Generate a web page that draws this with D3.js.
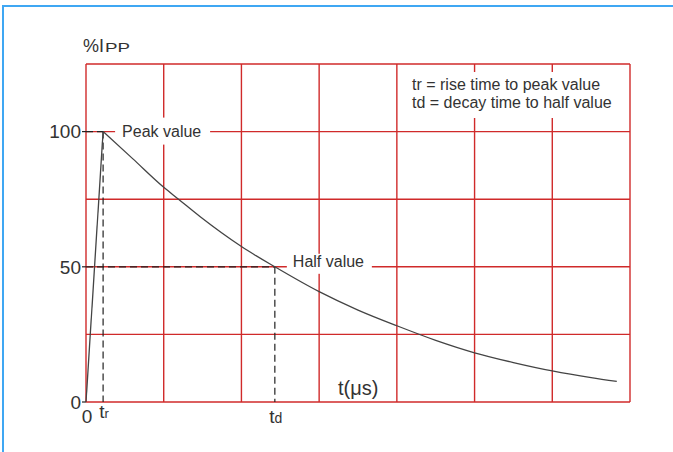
<!DOCTYPE html>
<html>
<head>
<meta charset="utf-8">
<script src="https://cdnjs.cloudflare.com/ajax/libs/d3/7.8.5/d3.min.js"></script>
<style>
  body { margin: 0; background: #fff; }
  text { font-family: "Liberation Sans", Arial, sans-serif; fill: #333; }
</style>
</head>
<body>
<div id="chart-area"></div>
<script>
// grid + data
var gridT = [0, 1, 2, 3, 4, 5, 6, 7]
var gridV = [0, 25, 50, 75, 100, 125]
var yTicks = [0, 50, 100]
var yTickLabels = ["0", "50", "100"]

var tr = 0.22
var td = 2.43

var riseT = [0, 0.22]
var riseV = [0, 100]

var decayT = [0.22, 0.6, 1.0, 1.19, 1.47, 2.0, 2.43, 3.0, 3.5, 4.0, 4.5, 5.0, 5.5, 6.0, 6.5, 6.83]
var decayV = [100, 90, 79.4, 75, 68.5, 57.5, 50, 40.8, 34, 28.2, 22.8, 18.2, 14.6, 11.5, 9.0, 7.6]

var legendLines = ["tr = rise time to peak value", "td = decay time to half value"]

var margin = { top: 64, bottom: 50, left: 86, right: 43 }
var width = 673 - margin.left - margin.right
var height = 452 - margin.top - margin.bottom

var svg = d3.select("#chart-area")
  .append("svg")
  .attr("width", 673)
  .attr("height", 452)

// light blue frame (top + left only)
svg.append("path")
  .attr("d", "M3,452 V6 H673")
  .attr("fill", "none")
  .attr("stroke", "#3fa7f3")
  .attr("stroke-width", 2)

var g = svg.append("g")
  .attr("transform", "translate(" + margin.left + "," + margin.top + ")")

var x = d3.scaleLinear()
  .domain([0, 7])
  .range([0, width])

var y = d3.scaleLinear()
  .domain([0, 125])
  .range([height, 0])

var red = "#d02a2a"

// grid
g.selectAll(".vgrid")
  .data(gridT)
  .enter()
  .append("line")
  .attr("class", "vgrid")
  .attr("x1", d => x(d))
  .attr("x2", d => x(d))
  .attr("y1", 0)
  .attr("y2", height)
  .attr("stroke", red)
  .attr("stroke-width", 1.4)

g.selectAll(".hgrid")
  .data(gridV)
  .enter()
  .append("line")
  .attr("class", "hgrid")
  .attr("x1", 0)
  .attr("x2", width)
  .attr("y1", d => y(d))
  .attr("y2", d => y(d))
  .attr("stroke", red)
  .attr("stroke-width", 1.4)

// white patches behind the labels
g.append("rect")
  .attr("x", x(tr) + 12)
  .attr("y", y(100) - 14)
  .attr("width", 95)
  .attr("height", 27)
  .attr("fill", "#fff")

g.append("rect")
  .attr("x", x(td) + 12)
  .attr("y", y(50) - 13)
  .attr("width", 85)
  .attr("height", 20)
  .attr("fill", "#fff")

g.append("rect")
  .attr("x", 319)
  .attr("y", 8)
  .attr("width", 210)
  .attr("height", 46)
  .attr("fill", "#fff")

// y ticks
g.selectAll(".ytick")
  .data(yTicks)
  .enter()
  .append("line")
  .attr("x1", -4)
  .attr("x2", 0)
  .attr("y1", d => y(d))
  .attr("y2", d => y(d))
  .attr("stroke", "#222")
  .attr("stroke-width", 1.2)

g.selectAll(".ylabel")
  .data(yTicks)
  .enter()
  .append("text")
  .attr("x", -5)
  .attr("y", d => y(d))
  .attr("dy", "0.36em")
  .attr("text-anchor", "end")
  .attr("font-size", "19px")
  .text((d, i) => yTickLabels[i])

// dashed guides
var dash = [
  { x1: tr, y1: 100, x2: tr, y2: 0 },
  { x1: 0, y1: 100, x2: tr, y2: 100 },
  { x1: 0, y1: 50, x2: td, y2: 50 },
  { x1: td, y1: 50, x2: td, y2: 0 }
]

g.selectAll(".dash")
  .data(dash)
  .enter()
  .append("line")
  .attr("x1", d => x(d.x1))
  .attr("x2", d => x(d.x2))
  .attr("y1", d => y(d.y1))
  .attr("y2", d => y(d.y2))
  .attr("stroke", "#222")
  .attr("stroke-width", 1.2)
  .attr("stroke-dasharray", "7,4")

// the pulse
var rise = riseT.map((t, i) => [t, riseV[i]])
var decay = decayT.map((t, i) => [t, decayV[i]])

g.append("path")
  .attr("d", d3.line().x(d => x(d[0])).y(d => y(d[1]))(rise))
  .attr("fill", "none")
  .attr("stroke", "#444")
  .attr("stroke-width", 1.3)

g.append("path")
  .attr("d", d3.line().curve(d3.curveMonotoneX).x(d => x(d[0])).y(d => y(d[1]))(decay))
  .attr("fill", "none")
  .attr("stroke", "#444")
  .attr("stroke-width", 1.3)

// x labels
g.append("text")
  .attr("x", x(0) + 1)
  .attr("y", height + 21)
  .attr("text-anchor", "middle")
  .attr("font-size", "19px")
  .text("0")

var trLabel = g.append("text")
  .attr("x", x(tr) + 1)
  .attr("y", height + 16)
  .attr("text-anchor", "middle")
trLabel.append("tspan").attr("font-size", "19px").text("t")
trLabel.append("tspan").attr("font-size", "13px").text("r")

var tdLabel = g.append("text")
  .attr("x", x(td) + 1)
  .attr("y", height + 21)
  .attr("text-anchor", "middle")
tdLabel.append("tspan").attr("font-size", "19px").text("t")
tdLabel.append("tspan").attr("font-size", "14px").text("d")

g.append("text")
  .attr("x", 252)
  .attr("y", height - 7)
  .attr("font-size", "20px")
  .text("t(μs)")

// y title
g.append("text")
  .attr("x", -3)
  .attr("y", -12)
  .attr("font-size", "18px")
  .text("%I")

g.append("text")
  .attr("x", 19)
  .attr("y", -12)
  .attr("font-size", "13px")
  .attr("textLength", 25)
  .attr("lengthAdjust", "spacingAndGlyphs")
  .text("PP")

// annotations
g.append("text")
  .attr("x", x(tr) + 19)
  .attr("y", y(100) + 5)
  .attr("font-size", "16px")
  .text("Peak value")

g.append("text")
  .attr("x", x(td) + 18)
  .attr("y", y(50))
  .attr("font-size", "16px")
  .text("Half value")

g.selectAll(".legend")
  .data(legendLines)
  .enter()
  .append("text")
  .attr("x", 326)
  .attr("y", (d, i) => 26 + i * 18)
  .attr("font-size", "16px")
  .text(d => d)
</script>
</body>
</html>
